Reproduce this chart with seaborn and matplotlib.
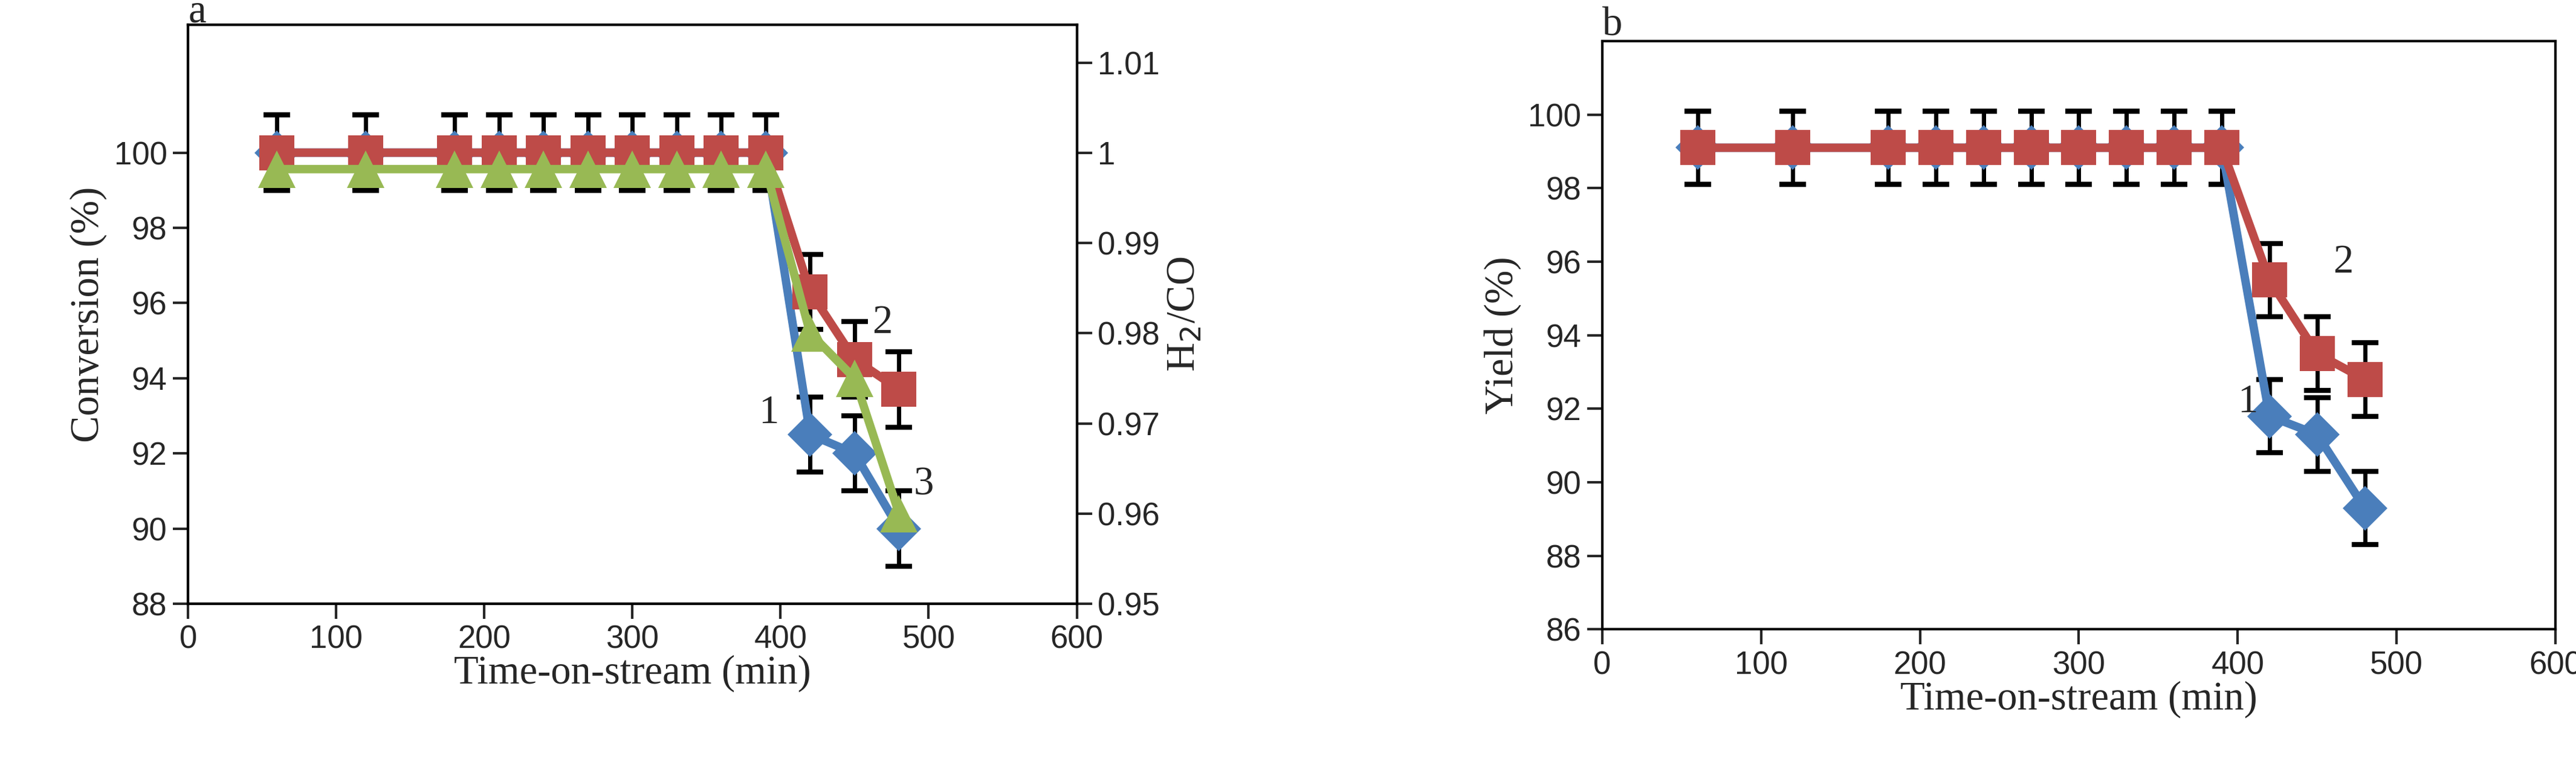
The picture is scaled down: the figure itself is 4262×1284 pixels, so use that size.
import matplotlib
matplotlib.use("Agg")
import matplotlib.pyplot as plt
import seaborn as sns
import pandas as pd

time_min = [60, 120, 180, 210, 240, 270, 300, 330, 360, 390, 420, 450, 480]
conv_1 = [100, 100, 100, 100, 100, 100, 100, 100, 100, 100, 92.5, 92.0, 90.0]
conv_2 = [100, 100, 100, 100, 100, 100, 100, 100, 100, 100, 96.3, 94.5, 93.7]
h2co_3 = [0.9982] * 10 + [0.980, 0.975, 0.960]
yield_1 = [99.1] * 10 + [91.8, 91.3, 89.3]
yield_2 = [99.1] * 10 + [95.5, 93.5, 92.8]
err = 1.0

BLUE, RED, GREEN = "#4a7ebb", "#be4b48", "#98b954"
sns.set_style("white")
plt.rcParams["font.family"] = ["Liberation Sans", "DejaVu Sans"]
serif = ["Liberation Serif", "DejaVu Serif"]

fig = plt.figure(figsize=(21.31, 6.42), dpi=200)
ax_a = fig.add_axes([0.073, 0.222, 0.345, 0.746])
ax_b = fig.add_axes([0.622, 0.189, 0.370, 0.758])

df_a = pd.DataFrame({"t": time_min, "c1": conv_1, "c2": conv_2, "h": h2co_3})
df_b = pd.DataFrame({"t": time_min, "y1": yield_1, "y2": yield_2})


def series(ax, df, col, color, marker, ms):
    ax.errorbar(df["t"], df[col], yerr=err, fmt="none", ecolor="black",
                elinewidth=2.5, capsize=8, capthick=3, zorder=2)
    sns.lineplot(data=df, x="t", y=col, ax=ax, color=color, lw=5, marker=marker,
                 markersize=ms, markeredgewidth=0, zorder=3)


series(ax_a, df_a, "c1", BLUE, "D", 19)
series(ax_a, df_a, "c2", RED, "s", 21)
ax_a.set_ylim(88, 103.4)
ax_a.set_yticks(range(88, 101, 2))
ax_a.set_xlim(0, 600)
ax_a.set_xticks(range(0, 601, 100))
ax_a.set_xlabel("Time-on-stream (min)", family=serif, fontsize=24, labelpad=0)
ax_a.set_ylabel("Conversion (%)", family=serif, fontsize=24)

ax_h = ax_a.twinx()
sns.lineplot(data=df_a, x="t", y="h", ax=ax_h, color=GREEN, lw=5, marker="^",
             markersize=22, markeredgewidth=0, zorder=4)
ax_h.set_ylim(0.95, 1.0142)
ax_h.set_yticks([0.95, 0.96, 0.97, 0.98, 0.99, 1.0, 1.01])
ax_h.set_yticklabels(["0.95", "0.96", "0.97", "0.98", "0.99", "1", "1.01"])
ax_h.set_ylabel("H$_2$/CO", family=serif, fontsize=24)
ax_h.set_xlabel("")

series(ax_b, df_b, "y1", BLUE, "D", 19)
series(ax_b, df_b, "y2", RED, "s", 21)
ax_b.set_ylim(86, 102)
ax_b.set_yticks(range(86, 101, 2))
ax_b.set_xlim(0, 600)
ax_b.set_xticks(range(0, 601, 100))
ax_b.set_xlabel("Time-on-stream (min)", family=serif, fontsize=24, labelpad=0)
ax_b.set_ylabel("Yield (%)", family=serif, fontsize=24)

for ax in (ax_a, ax_b, ax_h):
    ax.tick_params(labelsize=19, direction="out", length=9, width=1.5,
                   left=ax is not ax_h, right=ax is ax_h, bottom=ax is not ax_h)
    for s in ax.spines.values():
        s.set_color("black")
        s.set_linewidth(1.5)

ax_a.text(385, 92.8, "1", family=serif, fontsize=24)
ax_a.text(462, 95.2, "2", family=serif, fontsize=24)
ax_a.text(490, 90.9, "3", family=serif, fontsize=24)
ax_b.text(400, 91.9, "1", family=serif, fontsize=24)
ax_b.text(460, 95.7, "2", family=serif, fontsize=24)
ax_a.text(0.0, 1.005, "a", transform=ax_a.transAxes, family=serif, fontsize=24)
ax_b.text(0.0, 1.01, "b", transform=ax_b.transAxes, family=serif, fontsize=24)

fig.savefig("out.png", dpi=200)
